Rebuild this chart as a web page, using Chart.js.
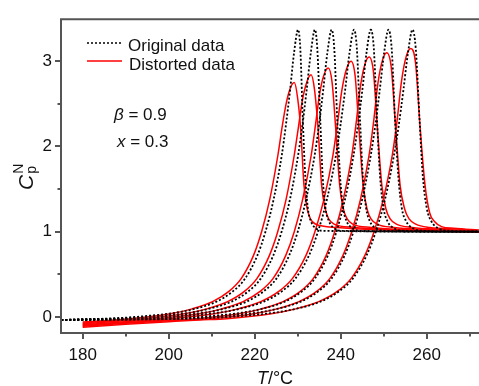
<!DOCTYPE html>
<html>
<head>
<meta charset="utf-8">
<script src="https://cdn.jsdelivr.net/npm/chart.js@4.4.0/dist/chart.umd.min.js"></script>
<style>
html,body{margin:0;padding:0;background:#fff;}
canvas{display:block;}
</style>
</head>
<body>
<canvas id="c" width="479" height="386"></canvas>
<script>
// ---- tick values ----
const xTicks = [180, 200, 220, 240, 260];
const xMinorTicks = [190, 210, 230, 250, 270];
const yTicks = [0, 1, 2, 3];
const yMinorTicks = [0.5, 1.5, 2.5];

// ---- original data (T, Cp^N) ----
const orig1 = [[175,-0.035],[187.4,-0.015],[192.1,0],[201.6,0.05],[206.4,0.10],[211.1,0.18],[214.9,0.30],[217.75,0.45],[220.6,0.72],[222.5,1.0],[224.4,1.38],[226.3,1.9],[227.25,2.25],[228.2,2.65],[229.15,3.1],[230.1,3.37],[230.6,3.15],[231.2,2.3],[231.75,1.65],[232.35,1.28],[233.1,1.12],[234.2,1.04],[236.1,1.01],[272.2,1.0]];
const orig2 = [[175,-0.035],[190.35,-0.015],[195.2,0],[204.9,0.05],[209.75,0.10],[214.6,0.18],[218.5,0.30],[221.4,0.45],[224.3,0.72],[226.25,1.0],[228.2,1.38],[230.1,1.9],[231.1,2.25],[232.05,2.65],[233.05,3.1],[234.0,3.37],[234.55,3.15],[235.25,2.3],[235.8,1.65],[236.45,1.28],[237.3,1.12],[238.5,1.04],[240.55,1.01],[272.2,1.0]];
const orig3 = [[175,-0.035],[193.35,-0.015],[198.3,0],[208.2,0.05],[213.15,0.10],[218.1,0.18],[222.05,0.30],[225.05,0.45],[228.0,0.72],[230.0,1.0],[231.95,1.38],[233.95,1.9],[234.95,2.25],[235.9,2.65],[236.9,3.1],[237.9,3.37],[238.5,3.15],[239.2,2.3],[239.85,1.65],[240.55,1.28],[241.4,1.12],[242.75,1.04],[244.95,1.01],[272.2,1.0]];
const orig4 = [[175,-0.035],[195.85,-0.015],[201.1,0],[211.6,0.05],[216.85,0.10],[222.1,0.18],[226.3,0.30],[229.45,0.45],[232.6,0.72],[234.7,1.0],[236.8,1.38],[238.9,1.9],[239.95,2.25],[241.0,2.65],[242.05,3.1],[243.1,3.37],[243.75,3.15],[244.5,2.3],[245.15,1.65],[245.9,1.28],[246.8,1.12],[248.2,1.04],[250.55,1.01],[272.2,1.0]];
const orig5 = [[175,-0.035],[202.0,-0.015],[207.0,0],[217.0,0.05],[222.0,0.10],[227.0,0.18],[231.0,0.30],[234.0,0.45],[237.0,0.72],[239.0,1.0],[241.0,1.38],[243.0,1.9],[244.0,2.25],[245.0,2.65],[246.0,3.1],[247.0,3.37],[247.7,3.15],[248.45,2.3],[249.15,1.65],[249.95,1.28],[250.9,1.12],[252.4,1.04],[254.85,1.01],[272.2,1.0]];
const orig6 = [[175,-0.035],[205.2,-0.015],[210.3,0],[220.5,0.05],[225.6,0.10],[230.7,0.18],[234.8,0.30],[237.85,0.45],[240.9,0.72],[242.95,1.0],[245.0,1.38],[247.0,1.9],[248.05,2.25],[249.05,2.65],[250.1,3.1],[251.1,3.37],[251.85,3.15],[252.65,2.3],[253.4,1.65],[254.2,1.28],[255.25,1.12],[256.8,1.04],[259.4,1.01],[272.2,1.0]];
const orig7 = [[175,-0.035],[208.55,-0.015],[213.9,0],[224.6,0.05],[229.95,0.10],[235.3,0.18],[239.6,0.30],[242.8,0.45],[246.0,0.72],[248.15,1.0],[250.3,1.38],[252.4,1.9],[253.5,2.25],[254.55,2.65],[255.65,3.1],[256.7,3.37],[257.45,3.15],[258.35,2.3],[259.1,1.65],[260.0,1.28],[261.1,1.12],[262.75,1.04],[265.5,1.01],[272.2,1.0]];

// ---- distorted data ----
const dist1 = [[180,-0.06],[186,-0.04],[191.2,-0.02],[200.7,0.04],[205.45,0.095],[210.2,0.18],[214.0,0.30],[216.85,0.45],[219.7,0.72],[221.6,1.0],[223.5,1.38],[225.4,1.9],[226.35,2.22],[227.3,2.50],[228.25,2.68],[229.2,2.75],[229.95,2.58],[230.7,2.2],[231.45,1.55],[232.2,1.27],[232.95,1.15],[234.1,1.09],[239.2,1.05],[247.2,1.025],[272.2,1.0]];
const dist2 = [[180,-0.07],[187,-0.045],[194.3,-0.02],[204.0,0.04],[208.85,0.095],[213.7,0.18],[217.6,0.30],[220.5,0.45],[223.4,0.72],[225.35,1.0],[227.3,1.38],[229.2,1.9],[230.2,2.24],[231.15,2.56],[232.15,2.76],[233.1,2.84],[233.9,2.67],[234.75,2.2],[235.55,1.55],[236.4,1.27],[237.2,1.15],[238.45,1.09],[243.1,1.05],[251.1,1.025],[272.2,1.0]];
const dist3 = [[180,-0.08],[188,-0.05],[197.5,-0.02],[207.4,0.04],[212.35,0.095],[217.3,0.18],[221.25,0.30],[224.25,0.45],[227.2,0.72],[229.2,1.0],[231.15,1.38],[233.15,1.9],[234.15,2.26],[235.1,2.62],[236.1,2.84],[237.1,2.92],[238.0,2.75],[238.85,2.2],[239.75,1.55],[240.6,1.27],[241.5,1.15],[242.8,1.09],[247.1,1.05],[255.1,1.025],[272.2,1.0]];
const dist4 = [[180,-0.09],[190,-0.055],[200.4,-0.02],[210.9,0.04],[216.15,0.095],[221.4,0.18],[225.6,0.30],[228.75,0.45],[231.9,0.72],[234.0,1.0],[236.1,1.38],[238.2,1.9],[239.25,2.27],[240.3,2.67],[241.35,2.91],[242.4,3.0],[243.35,2.83],[244.25,2.2],[245.2,1.55],[246.1,1.27],[247.05,1.15],[248.45,1.09],[252.4,1.05],[260.4,1.025],[272.2,1.0]];
const dist5 = [[180,-0.10],[190,-0.065],[198,-0.04],[206.6,-0.02],[216.6,0.04],[221.6,0.095],[226.6,0.18],[230.6,0.30],[233.6,0.45],[236.6,0.72],[238.6,1.0],[240.6,1.38],[242.6,1.9],[243.6,2.28],[244.6,2.71],[245.6,2.96],[246.6,3.05],[247.6,2.88],[248.55,2.2],[249.55,1.55],[250.5,1.27],[251.5,1.15],[252.95,1.09],[256.6,1.05],[264.6,1.025],[272.2,1.0]];
const dist6 = [[180,-0.11],[190,-0.075],[200,-0.045],[209.9,-0.02],[220.1,0.04],[225.2,0.095],[230.3,0.18],[234.4,0.30],[237.45,0.45],[240.5,0.72],[242.55,1.0],[244.6,1.38],[246.6,1.9],[247.65,2.29],[248.65,2.74],[249.7,3.01],[250.7,3.10],[251.75,2.93],[252.8,2.2],[253.8,1.55],[254.85,1.27],[255.9,1.15],[257.45,1.09],[260.7,1.05],[268.7,1.025],[272.2,1.0]];
const dist7 = [[180,-0.12],[190,-0.085],[200,-0.055],[207,-0.035],[213.5,-0.02],[224.2,0.04],[229.55,0.095],[234.9,0.18],[239.2,0.30],[242.4,0.45],[245.6,0.72],[247.75,1.0],[249.9,1.38],[252.0,1.9],[253.1,2.30],[254.15,2.77],[255.25,3.06],[256.3,3.15],[257.4,2.98],[258.5,2.2],[259.6,1.55],[260.7,1.22],[261.8,1.12],[263.45,1.06],[266.3,1.04],[272.2,1.02]];

const origSeries = [orig1, orig2, orig3, orig4, orig5, orig6, orig7];
const distSeries = [dist1, dist2, dist3, dist4, dist5, dist6, dist7];

const FONT = '"Liberation Sans", Arial, Helvetica, sans-serif';
const AXIS = '#555555';

const toXY = arr => arr.map(p => ({x: p[0], y: p[1]}));

const datasets = [];
origSeries.forEach((s, i) => datasets.push({
  label: 'Original data', data: toXY(s), borderColor: '#000000', borderWidth: 1.8,
  borderDash: [2, 2], pointRadius: 0, fill: false, cubicInterpolationMode: 'monotone'
}));
distSeries.forEach((s, i) => datasets.push({
  label: 'Distorted data', data: toXY(s), borderColor: '#ff0000', borderWidth: 1.5,
  pointRadius: 0, fill: false, cubicInterpolationMode: 'monotone'
}));

const deco = {
  id: 'deco',
  afterDraw(chart) {
    const {ctx, chartArea: a} = chart;
    const xs = chart.scales.x, ys = chart.scales.y;
    ctx.save();
    ctx.strokeStyle = AXIS;
    ctx.lineWidth = 2;
    ctx.beginPath();
    ctx.moveTo(a.left - 1, a.top); ctx.lineTo(a.right, a.top);
    ctx.moveTo(a.left, a.top); ctx.lineTo(a.left, a.bottom + 1);
    ctx.moveTo(a.left - 1, a.bottom); ctx.lineTo(a.right, a.bottom);
    ctx.stroke();
    ctx.beginPath();
    xTicks.forEach(v => { const p = Math.round(xs.getPixelForValue(v)); ctx.moveTo(p, a.bottom); ctx.lineTo(p, a.bottom + 6); });
    xMinorTicks.forEach(v => { const p = Math.round(xs.getPixelForValue(v)); ctx.moveTo(p, a.bottom); ctx.lineTo(p, a.bottom + 3.5); });
    yTicks.forEach(v => { const p = Math.round(ys.getPixelForValue(v)); ctx.moveTo(a.left, p); ctx.lineTo(a.left - 6, p); });
    yMinorTicks.forEach(v => { const p = Math.round(ys.getPixelForValue(v)); ctx.moveTo(a.left, p); ctx.lineTo(a.left - 3.5, p); });
    ctx.stroke();

    // legend
    ctx.lineWidth = 1.6;
    ctx.strokeStyle = '#000';
    ctx.setLineDash([2, 2]);
    ctx.beginPath(); ctx.moveTo(87, 43); ctx.lineTo(121, 43); ctx.stroke();
    ctx.setLineDash([]);
    ctx.strokeStyle = '#ff0000';
    ctx.lineWidth = 1.5;
    ctx.beginPath(); ctx.moveTo(87, 61); ctx.lineTo(122, 61); ctx.stroke();
    ctx.fillStyle = '#111';
    ctx.textBaseline = 'alphabetic';
    ctx.textAlign = 'left';
    ctx.font = '17px ' + FONT;
    ctx.fillText('Original data', 128, 50.5);
    ctx.fillText('Distorted data', 129, 69.5);

    // parameters
    const mixed = (parts, x, y) => {
      let cx = x;
      parts.forEach(([t, it, size]) => {
        ctx.font = (it ? 'italic ' : '') + size + 'px ' + FONT;
        ctx.fillText(t, cx, y);
        cx += ctx.measureText(t).width;
      });
    };
    mixed([['β', true, 17], [' = 0.9', false, 17]], 114, 120);
    mixed([['x', true, 17], [' = 0.3', false, 17]], 117, 146.5);

    // x title
    ctx.font = 'italic 18px ' + FONT;
    const w1 = ctx.measureText('T').width;
    ctx.font = '18px ' + FONT;
    const w2 = ctx.measureText('/°C').width;
    const tx = 275 - (w1 + w2) / 2;
    mixed([['T', true, 18], ['/°C', false, 18]], tx, 384);

    // y title
    ctx.save();
    ctx.translate(33, 190);
    ctx.rotate(-Math.PI / 2);
    ctx.font = 'italic 21px ' + FONT;
    ctx.fillText('C', 0, 0);
    const cw = ctx.measureText('C').width;
    ctx.font = '14px ' + FONT;
    ctx.fillText('p', cw + 1, 3);
    ctx.fillText('N', cw + 1, -10);
    ctx.restore();

    ctx.restore();
  }
};

new Chart(document.getElementById('c'), {
  type: 'line',
  data: { datasets },
  options: {
    responsive: false,
    animation: false,
    devicePixelRatio: 1,
    layout: { padding: { top: 14, right: 0, left: 0, bottom: 0 } },
    plugins: { legend: { display: false }, tooltip: { enabled: false }, title: { display: false } },
    elements: { point: { radius: 0 }, line: { tension: 0 } },
    scales: {
      x: {
        type: 'linear', min: 174.95, max: 272.16,
        afterBuildTicks: s => { s.ticks = xTicks.map(v => ({ value: v })); },
        afterFit: s => { s.height = 53; },
        grid: { display: false, drawTicks: false },
        border: { display: false },
        ticks: { font: { family: FONT, size: 17 }, color: '#111', padding: 12, maxRotation: 0 }
      },
      y: {
        type: 'linear', min: -0.188, max: 3.493,
        afterBuildTicks: s => { s.ticks = yTicks.map(v => ({ value: v })); },
        afterFit: s => { s.width = 61; },
        grid: { display: false, drawTicks: false },
        border: { display: false },
        ticks: { font: { family: FONT, size: 17 }, color: '#111', padding: 9 }
      }
    }
  },
  plugins: [deco]
});
</script>
</body>
</html>
